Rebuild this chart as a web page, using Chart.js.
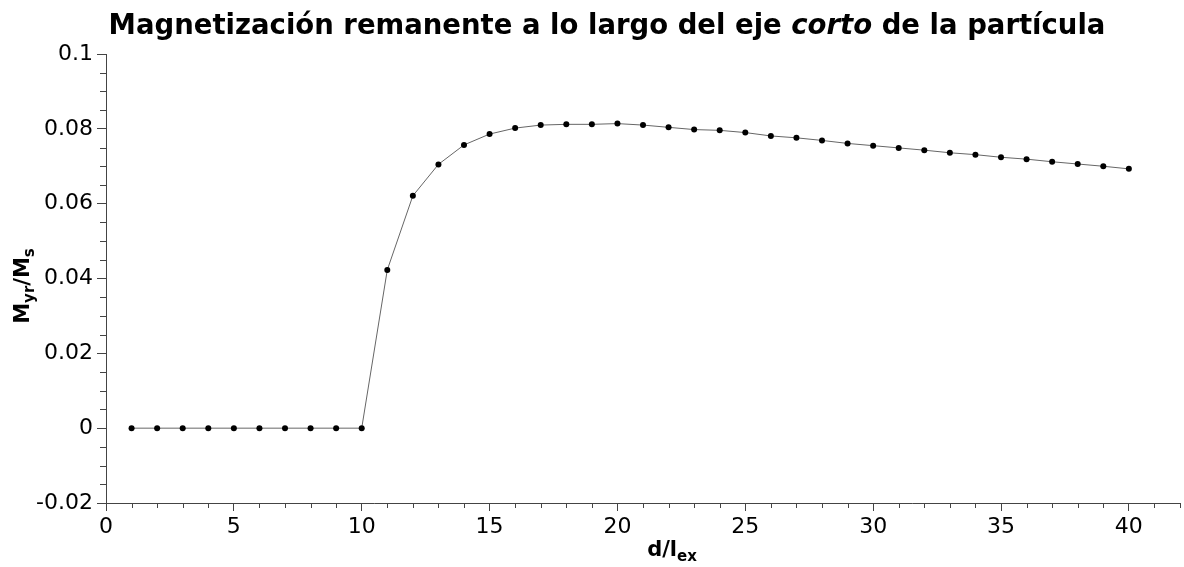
<!DOCTYPE html>
<html>
<head>
<meta charset="utf-8">
<script src="https://cdn.jsdelivr.net/npm/chart.js@4/dist/chart.umd.min.js"></script>
<style>
  html, body { margin: 0; background: #fff; }
  #wrap { width: 1184px; height: 567px; }
</style>
</head>
<body>
<div id="wrap"><canvas id="chart"></canvas></div>
<script>
// d/l_ex values and remanent magnetization along the short axis
const dValues = [1, 2, 3, 4, 5, 6, 7, 8, 9, 10,
  11, 12, 13, 14, 15, 16, 17, 18, 19, 20,
  21, 22, 23, 24, 25, 26, 27, 28, 29, 30,
  31, 32, 33, 34, 35, 36, 37, 38, 39, 40];
const myrValues = [0, 0, 0, 0, 0, 0, 0, 0, 0, 0,
  0.0423, 0.0621, 0.0705, 0.0757, 0.0786, 0.0802, 0.0810, 0.0812, 0.0812, 0.0814,
  0.0810, 0.0804, 0.0798, 0.0796, 0.0790, 0.0781, 0.0776, 0.0769, 0.0761, 0.0755,
  0.0749, 0.0743, 0.0736, 0.0731, 0.0724, 0.0719, 0.0712, 0.0706, 0.0700, 0.0693];

const xRange = [0, 42];
const yRange = [-0.02, 0.1];
const xMajor = 5, xMinor = 1;
const yMajor = 0.02, yMinor = 0.005;

const titleParts = [
  { text: 'Magnetización remanente a lo largo del eje ', italic: false },
  { text: 'corto', italic: true },
  { text: ' de la partícula', italic: false }
];

const FONT = '"DejaVu Sans", sans-serif';
const AXIS_COLOR = '#444';

// draws text runs one after the other (subscripts get a dy)
function drawRuns(ctx, runs, x, y) {
  runs.forEach(r => {
    ctx.font = r.font;
    ctx.fillText(r.text, x, y + (r.dy || 0));
    x += ctx.measureText(r.text).width;
  });
}
function runsWidth(ctx, runs) {
  let w = 0;
  runs.forEach(r => { ctx.font = r.font; w += ctx.measureText(r.text).width; });
  return w;
}

const decorations = {
  id: 'decorations',
  afterDraw(chart) {
    const ctx = chart.ctx;
    const xs = chart.scales.x, ys = chart.scales.y;
    const area = chart.chartArea;
    ctx.save();

    // minor ticks
    ctx.strokeStyle = AXIS_COLOR;
    ctx.lineWidth = 1;
    ctx.beginPath();
    for (let v = yRange[0]; v <= yRange[1] + 1e-9; v += yMinor) {
      const k = Math.round(v / yMinor);
      if (k % Math.round(yMajor / yMinor) === 0) continue;
      const py = Math.round(ys.getPixelForValue(v)) + 0.5;
      ctx.moveTo(area.left - 6, py);
      ctx.lineTo(area.left, py);
    }
    for (let v = xRange[0]; v <= xRange[1]; v += xMinor) {
      if (v % xMajor === 0) continue;
      const px = Math.round(xs.getPixelForValue(v)) + 0.5;
      ctx.moveTo(px, area.bottom);
      ctx.lineTo(px, area.bottom + 5);
    }
    ctx.stroke();

    ctx.fillStyle = '#000';
    ctx.textBaseline = 'alphabetic';

    // title
    const tRuns = titleParts.map(p => ({
      text: p.text,
      font: (p.italic ? 'italic ' : '') + 'bold 27.5px ' + FONT
    }));
    const tw = runsWidth(ctx, tRuns);
    drawRuns(ctx, tRuns, 607 - tw / 2, 34);

    // x axis title
    const xRuns = [
      { text: 'd/l', font: 'bold 21px ' + FONT },
      { text: 'ex', font: 'bold 15px ' + FONT, dy: 5 }
    ];
    const xw = runsWidth(ctx, xRuns);
    drawRuns(ctx, xRuns, 672 - xw / 2, 556);

    // y axis title
    const yRuns = [
      { text: 'M', font: 'bold 21px ' + FONT },
      { text: 'yr', font: 'bold 15px ' + FONT, dy: 5 },
      { text: '/M', font: 'bold 21px ' + FONT },
      { text: 's', font: 'bold 15px ' + FONT, dy: 5 }
    ];
    const yw = runsWidth(ctx, yRuns);
    ctx.translate(29, 286);
    ctx.rotate(-Math.PI / 2);
    drawRuns(ctx, yRuns, -yw / 2, 0);

    ctx.restore();
  }
};

new Chart(document.getElementById('chart'), {
  type: 'scatter',
  data: {
    datasets: [{
      data: dValues.map((d, i) => ({ x: d, y: myrValues[i] })),
      showLine: true,
      borderColor: '#666',
      borderWidth: 1,
      pointRadius: 3,
      pointBackgroundColor: '#000',
      pointBorderColor: '#000',
      pointBorderWidth: 0,
      tension: 0
    }]
  },
  options: {
    responsive: true,
    maintainAspectRatio: false,
    animation: false,
    layout: { padding: { top: 54, right: 1, left: 0, bottom: 0 } },
    plugins: {
      legend: { display: false },
      title: { display: false },
      tooltip: { enabled: false }
    },
    scales: {
      x: {
        type: 'linear',
        min: xRange[0],
        max: xRange[1],
        afterFit(scale) { scale.height = 64; },
        border: { color: AXIS_COLOR, width: 1 },
        grid: { drawOnChartArea: false, tickLength: 8, color: AXIS_COLOR },
        ticks: {
          stepSize: xMajor,
          includeBounds: false,
          color: '#000',
          padding: 3,
          maxRotation: 0,
          font: { family: FONT, size: 22 }
        }
      },
      y: {
        min: yRange[0],
        max: yRange[1],
        afterFit(scale) { scale.width = 106; },
        border: { color: AXIS_COLOR, width: 1 },
        grid: { drawOnChartArea: false, tickLength: 9, color: AXIS_COLOR },
        ticks: {
          stepSize: yMajor,
          color: '#000',
          padding: 4,
          font: { family: FONT, size: 22 },
          callback: v => String(+v.toFixed(3))
        }
      }
    }
  },
  plugins: [decorations]
});
</script>
</body>
</html>
